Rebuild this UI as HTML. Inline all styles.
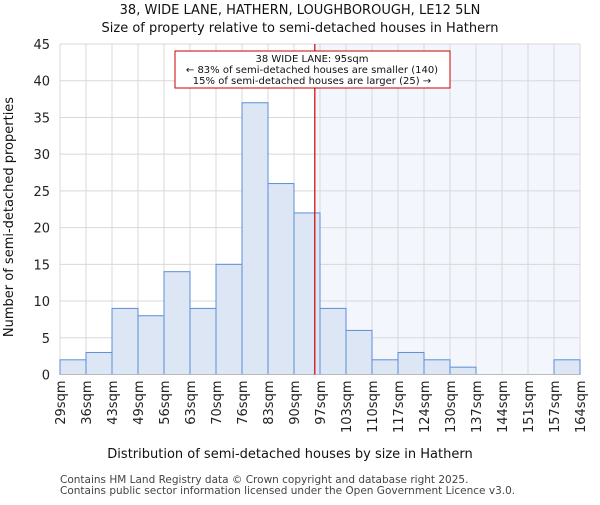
<!DOCTYPE html>
<html><head><meta charset="utf-8"><style>body{margin:0;background:#fff}svg{font-family:"DejaVu Sans","Liberation Sans",sans-serif}</style></head>
<body>
<svg id="c" width="600" height="500" xmlns="http://www.w3.org/2000/svg"></svg>
<script>
const categories=["29sqm","36sqm","43sqm","49sqm","56sqm","63sqm","70sqm","76sqm","83sqm","90sqm","97sqm","103sqm","110sqm","117sqm","124sqm","130sqm","137sqm","144sqm","151sqm","157sqm","164sqm"];
const counts=[2,3,9,8,14,9,15,37,26,22,9,6,2,3,2,1,0,0,0,2];
const yTicks=[0,5,10,15,20,25,30,35,40,45];
const markerBin=[9.8];
const NS="http://www.w3.org/2000/svg";
const svg=document.getElementById('c');
const L=60,R=580,T=44,B=374.5,n=counts.length;
const x=i=>L+(R-L)*i/n;
const y=v=>B-(B-T)*v/45;
function el(t,a,p){const e=document.createElementNS(NS,t);for(const k in a)e.setAttribute(k,a[k]);(p||svg).appendChild(e);return e;}
function txt(s,a){const e=el('text',a);e.textContent=s;return e;}
const mx=x(markerBin[0]);
let e=el('rect',{x:mx,y:T,width:R-mx,height:B-T,fill:'#f3f6fd'});

yTicks.forEach(v=>{let g=el('line',{x1:L,x2:R,y1:y(v),y2:y(v),stroke:'#d8d8d8'});
let t=txt(v,{x:L-10,y:y(v)+5,'text-anchor':'end','font-size':13,fill:'#222'});});
categories.forEach((c,i)=>{let g=el('line',{x1:x(i),x2:x(i),y1:T,y2:B,stroke:'#d8d8d8'});
let t=txt(c,{transform:`translate(${x(i)+5},${B+6}) rotate(-90)`,'text-anchor':'end','font-size':13,fill:'#222'});});
counts.forEach((v,i)=>{if(v<=0)return;let b=el('rect',{x:x(i),y:y(v),width:x(i+1)-x(i),height:B-y(v),fill:'#dce6f4',stroke:'#5b8fd6','stroke-width':1});});
e=el('line',{x1:L,x2:R,y1:B,y2:B,stroke:'#bbb'});
e=el('line',{x1:mx,x2:mx,y1:T,y2:B,stroke:'#cc0000','stroke-width':1.2});
e=el('rect',{x:175,y:51,width:275,height:37,fill:'#fff',stroke:'#cc0000'});
[["38 WIDE LANE: 95sqm",62],["← 83% of semi-detached houses are smaller (140)",73],["15% of semi-detached houses are larger (25) →",84]].forEach(a=>{let t=txt(a[0],{x:312,y:a[1],'text-anchor':'middle','font-size':10,fill:'#111'});});
e=txt("38, WIDE LANE, HATHERN, LOUGHBOROUGH, LE12 5LN",{x:300,y:14,'text-anchor':'middle','font-size':13,fill:'#111'});
e=txt("Size of property relative to semi-detached houses in Hathern",{x:300,y:32,'text-anchor':'middle','font-size':13,fill:'#111'});
e=txt("Distribution of semi-detached houses by size in Hathern",{x:290,y:458,'text-anchor':'middle','font-size':13,fill:'#111'});
e=txt("Number of semi-detached properties",{transform:'translate(13,217) rotate(-90)','text-anchor':'middle','font-size':13,fill:'#111'});
e=txt("Contains HM Land Registry data © Crown copyright and database right 2025.",{x:60,y:483,'font-size':10.5,fill:'#444'});
e=txt("Contains public sector information licensed under the Open Government Licence v3.0.",{x:60,y:494,'font-size':10.5,fill:'#444'});
</script>
</body></html>
